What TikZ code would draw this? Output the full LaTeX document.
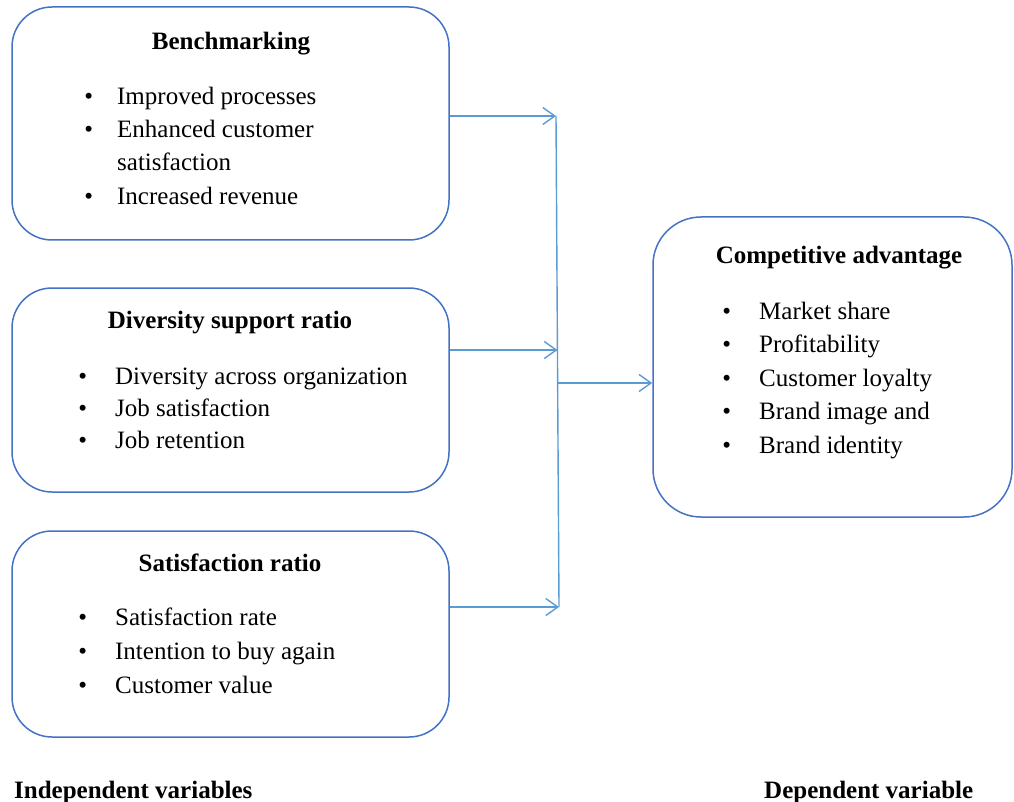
\documentclass[tikz,border=0pt]{standalone}
\usepackage{fontspec}
\setmainfont{Liberation Serif}
\usetikzlibrary{arrows.meta}
\definecolor{boxblue}{HTML}{4472C4}
\definecolor{arrblue}{HTML}{5B9BD5}
\tikzset{
  box/.style={draw=boxblue, line width=1.5pt, inner sep=0pt},
  ttl/.style={font=\fontsize{25}{30}\selectfont\bfseries, anchor=base, inner sep=0pt},
  itm/.style={font=\fontsize{25}{30}\selectfont, anchor=base west, inner sep=0pt},
  lbl/.style={font=\fontsize{25}{30}\selectfont\bfseries, anchor=base west, inner sep=0pt},
  wire/.style={draw=arrblue, line width=1.4pt},
  conn/.style={wire, -{Straight Barb[length=12pt,width=17pt,line width=1.4pt]}}
}
\newcommand{\bul}[1]{\llap{\textbullet\hspace{#1pt}}}
\begin{document}
\begin{tikzpicture}[x=1pt,y=-1pt]
\useasboundingbox (0,0) rectangle (1014,802);

% boxes
\node[box, rounded corners=40pt, minimum width=437pt, minimum height=233pt] (b1) at (230.5,123.5) {};
\node[box, rounded corners=40pt, minimum width=437pt, minimum height=204pt] (b2) at (230.5,390) {};
\node[box, rounded corners=40pt, minimum width=437pt, minimum height=206pt] (b3) at (230.5,634) {};
\node[box, rounded corners=48pt, minimum width=359pt, minimum height=300pt] (b4) at (832.5,367) {};

% box 1
\node[ttl] (t1) at (231,50) {Benchmarking};
\node[itm] (i11) at (117,105) {\bul{24}Improved processes};
\node[itm] (i12) at (117,138) {\bul{24}Enhanced customer};
\node[itm] (i13) at (117,171) {satisfaction};
\node[itm] (i14) at (117,205) {\bul{24}Increased revenue};

% box 2
\node[ttl] (t2) at (230,328) {Diversity support ratio};
\node[itm] (i21) at (115,384) {\bul{28}Diversity across organization};
\node[itm] (i22) at (115,416) {\bul{28}Job satisfaction};
\node[itm] (i23) at (115,448) {\bul{28}Job retention};

% box 3
\node[ttl] (t3) at (230,571) {Satisfaction ratio};
\node[itm] (i31) at (115,625) {\bul{28}Satisfaction rate};
\node[itm] (i32) at (115,659) {\bul{28}Intention to buy again};
\node[itm] (i33) at (115,693) {\bul{28}Customer value};

% box 4
\node[ttl] (t4) at (839,264) {Competitive advantage};
\node[itm] (i41) at (759,319) {\bul{28}Market share};
\node[itm] (i42) at (759,352) {\bul{28}Profitability};
\node[itm] (i43) at (759,386) {\bul{28}Customer loyalty};
\node[itm] (i44) at (759,419) {\bul{28}Brand image and};
\node[itm] (i45) at (759,453) {\bul{28}Brand identity};

% bottom labels
\node[lbl] (ind) at (14,798) {Independent variables};
\node[lbl] (dep) at (764,798) {Dependent variable};

% connectors
\coordinate (j1) at (556,116);
\coordinate (j2) at (557.5,350);
\coordinate (j3) at (559,607);
\coordinate (jo) at (558,383);
\draw[wire] (j1) -- (j3);
\draw[conn] (b1.east |- j1) -- (j1);
\draw[conn] (b2.east |- j2) -- (j2);
\draw[conn] (b3.east |- j3) -- (j3);
\draw[conn] (jo) -- (b4.west |- jo);
\end{tikzpicture}
\end{document}
